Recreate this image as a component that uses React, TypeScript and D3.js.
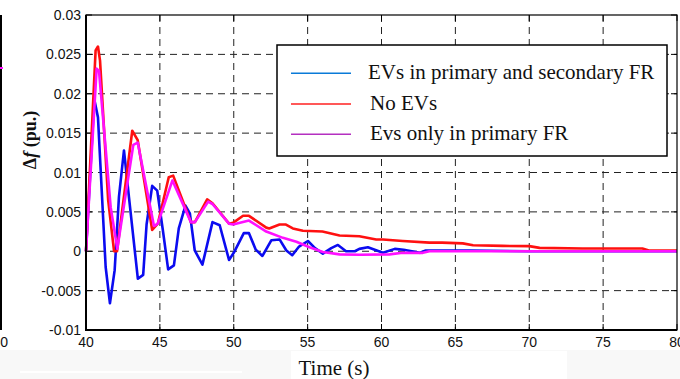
import React from "react";
import * as d3 from "d3";

const W = 680;
const H = 379;

const xTicks = [40, 45, 50, 55, 60, 65, 70, 75, 80];
const yTicks = [-0.01, -0.005, 0, 0.005, 0.01, 0.015, 0.02, 0.025, 0.03];
const yTickLabels = ["-0.01", "-0.005", "0", "0.005", "0.01", "0.015", "0.02", "0.025", "0.03"];

const legendLabels = [
  "EVs in primary and secondary FR",
  "No EVs",
  "Evs only in primary FR",
];

// EVs in primary and secondary FR (blue)
const blueSeries: [number, number][] = [
  [40, 0], [40.56, 0.0193], [40.81, 0.017], [41.33, -0.002], [41.62, -0.0066],
  [41.94, -0.0024], [42.23, 0.0069], [42.57, 0.0128], [42.9, 0.007], [43.51, -0.0035],
  [43.87, -0.003], [44.1, 0.0034], [44.48, 0.0083], [44.82, 0.0077], [45.2, 0.0027],
  [45.56, -0.0023], [45.95, -0.0018], [46.28, 0.0029], [46.73, 0.0058], [47.03, 0.0048],
  [47.36, 0.0001], [47.88, -0.0017], [48.56, 0.0037], [49.05, 0.0033], [49.68, -0.0011],
  [50.0, -0.0002], [50.68, 0.0023], [51.03, 0.0023], [51.49, 0.0002], [51.94, -0.0006],
  [52.55, 0.0014], [53.1, 0.0015], [53.56, 0.0001], [53.96, -0.0005], [54.42, 0.0006],
  [55.02, 0.0013], [55.5, 0.0004], [56.03, -0.0003], [56.6, 0.0004], [57.05, 0.0008],
  [57.6, 0.0], [58.2, 0.0], [58.5, 0.0003], [59.08, 0.0005], [60.1, -0.0002],
  [60.9, 0.0003], [61.5, 0.0002], [62.6, -0.0002], [63.0, 0.0001], [66, 0.0001],
  [70, 0.0], [80, 0.0],
];

// No EVs (red)
const redSeries: [number, number][] = [
  [40, 0], [40.65, 0.0255], [40.81, 0.026], [40.95, 0.0242], [41.5, 0.0065],
  [41.9, 0], [42.1, 0], [43.13, 0.0153], [43.5, 0.0141], [44.48, 0.0027],
  [44.86, 0.0035], [45.6, 0.0094], [45.9, 0.0096], [47.1, 0.0037], [47.37, 0.0037],
  [48.2, 0.0066], [48.56, 0.0061], [49.68, 0.0035], [49.95, 0.0036], [50.63, 0.0045],
  [51.03, 0.0045], [52.2, 0.003], [52.4, 0.0029], [53.1, 0.0034], [53.5, 0.0034],
  [54.0, 0.0029], [54.68, 0.0026], [56.0, 0.0025], [57.16, 0.002], [58.5, 0.0019],
  [59.64, 0.0015], [60.1, 0.0015], [61.44, 0.0013], [63.24, 0.0011], [64.1, 0.0011],
  [65.5, 0.001], [66.2, 0.00077], [68.2, 0.00068], [70, 0.00065], [70.7, 0.00043],
  [73.6, 0.00034], [77.66, 0.00034], [78.1, 0.0001], [80, 0.0001],
];

// EVs only in primary FR (magenta)
const magentaSeries: [number, number][] = [
  [40, 0], [40.72, 0.0232], [40.88, 0.0229], [41.67, 0.0056], [42.12, 0.0003],
  [43.2, 0.0135], [43.5, 0.0138], [44.6, 0.0032], [44.86, 0.0035], [45.85, 0.009],
  [47.1, 0.0037], [47.37, 0.0037], [48.27, 0.0063], [48.56, 0.006], [49.68, 0.0035],
  [49.95, 0.0034], [51.03, 0.0039], [52.2, 0.0025], [53.33, 0.0017], [54.24, 0.0012],
  [55.13, 0.0005], [56.03, -0.0001], [57.16, -0.0004], [58.5, -0.00045], [60.54, -0.0004],
  [61.44, -0.0002], [62.8, -0.0002], [63.24, 0], [80, 0],
];

const seriesColors = ["#0b0bf0", "#ff1010", "#ff10ff"];
const legendColors = ["#0a7ad8", "#ff2020", "#b42fc0"];

export default function App() {
  const x = d3.scaleLinear().domain([40, 80]).range([86, 677]);
  const y = d3.scaleLinear().domain([-0.01, 0.03]).range([330, 15]);
  const line = d3
    .line<[number, number]>()
    .x((d) => x(d[0]))
    .y((d) => y(d[1]));

  const series = [blueSeries, redSeries, magentaSeries];
  const x0 = x(40), x1 = x(80), yTop = y(0.03), yBot = y(-0.01);

  return (
    <svg
      width={W}
      height={H}
      style={{ position: "absolute", left: 0, top: 0, background: "#ffffff" }}
      fontFamily="'Liberation Sans', Arial, sans-serif"
    >
      <rect x={0} y={0} width={W} height={H} fill="#ffffff" />
      <rect x={0} y={350} width={W} height={29} fill="#f8f8f8" />
      <rect x={291} y={351} width={276} height={28} fill="#ffffff" />
      <rect x={20} y={371} width={222} height={2} fill="#ffffff" />

      {/* artifacts of neighbouring figure */}
      <line x1={1} x2={1} y1={15} y2={330} stroke="#000" strokeWidth={2} />
      <line x1={0} x2={3} y1={68} y2={68} stroke="#ff10ff" strokeWidth={2} />
      <text x={8} y={347} fontSize={14} textAnchor="end" fill="#111">80</text>

      {/* grid */}
      <g stroke="#222" strokeWidth={1} strokeDasharray="7,5">
        {xTicks.slice(1, -1).map((t) => (
          <line key={"gx" + t} x1={x(t)} x2={x(t)} y1={yTop} y2={yBot} />
        ))}
        {yTicks.slice(1, -1).map((t) => (
          <line key={"gy" + t} x1={x0} x2={x1} y1={y(t)} y2={y(t)} />
        ))}
      </g>

      {/* ticks */}
      <g stroke="#000" strokeWidth={1}>
        {xTicks.map((t) => (
          <g key={"tx" + t}>
            <line x1={x(t)} x2={x(t)} y1={yBot} y2={yBot - 6} />
            <line x1={x(t)} x2={x(t)} y1={yTop} y2={yTop + 6} />
          </g>
        ))}
        {yTicks.map((t) => (
          <g key={"ty" + t}>
            <line x1={x0} x2={x0 + 6} y1={y(t)} y2={y(t)} />
            <line x1={x1} x2={x1 - 6} y1={y(t)} y2={y(t)} />
          </g>
        ))}
      </g>

      {/* data */}
      <g fill="none" strokeWidth={2.6} strokeLinejoin="round">
        {series.map((s, i) => (
          <path key={"s" + i} d={line(s) || ""} stroke={seriesColors[i]} />
        ))}
      </g>

      {/* frame */}
      <rect x={x0} y={yTop} width={x1 - x0} height={yBot - yTop} fill="none" stroke="#000" strokeWidth={1.2} />
      <line x1={x0} x2={x0} y1={yTop} y2={yBot + 1} stroke="#000" strokeWidth={2} />
      <line x1={x0} x2={x1} y1={yBot} y2={yBot} stroke="#000" strokeWidth={2} />

      {/* tick labels */}
      {xTicks.map((t) => (
        <text key={"lx" + t} x={x(t)} y={347} fontSize={14} textAnchor="middle" fill="#111">
          {t}
        </text>
      ))}
      {yTicks.map((t, i) => (
        <text key={"ly" + t} x={81} y={y(t) + 5} fontSize={14} textAnchor="end" fill="#111">
          {yTickLabels[i]}
        </text>
      ))}

      {/* axis labels */}
      <text
        x={334}
        y={375}
        fontSize={21}
        textAnchor="middle"
        fontFamily="'Liberation Serif', 'Times New Roman', serif"
        fill="#111"
      >
        Time (s)
      </text>
      <text
        transform="translate(36,140) rotate(-90)"
        fontSize={18}
        fontWeight="bold"
        textAnchor="middle"
        fontFamily="'Liberation Serif', 'Times New Roman', serif"
        fill="#111"
      >
        Δ<tspan fontStyle="italic">f</tspan> (pu.)
      </text>

      {/* legend */}
      <rect x={277} y={45} width={390} height={111} fill="#ffffff" stroke="#000" strokeWidth={1.5} />
      {legendLabels.map((lab, i) => {
        const ly = [73.3, 104, 134.3][i];
        return (
          <g key={"lg" + i}>
            <line x1={291} x2={351} y1={ly} y2={ly} stroke={legendColors[i]} strokeWidth={1.6} />
            <text
              x={i === 0 ? 368 : 370}
              y={ly + 6}
              fontSize={21}
              fontFamily="'Liberation Serif', 'Times New Roman', serif"
              fill="#111"
            >
              {lab}
            </text>
          </g>
        );
      })}
    </svg>
  );
}
